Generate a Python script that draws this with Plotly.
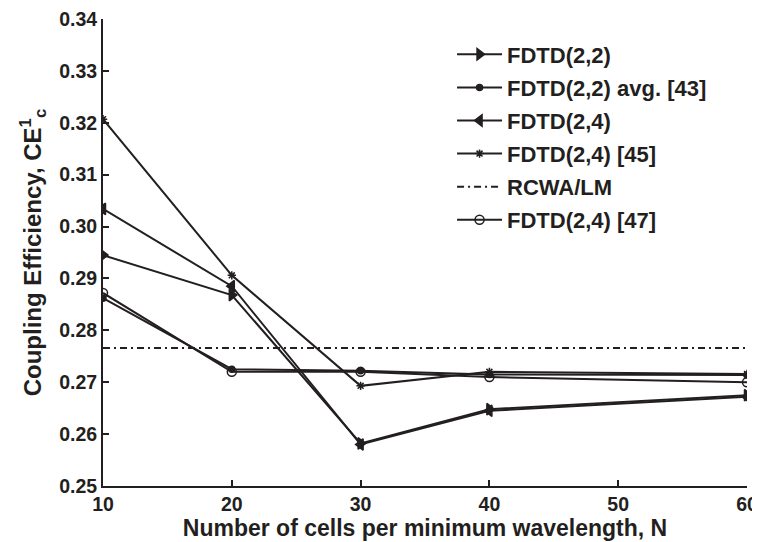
import plotly.graph_objects as go

N = [10, 20, 30, 40, 60]
fdtd22 = [0.2945, 0.2868, 0.2582, 0.2648, 0.2675]
fdtd22_avg = [0.2862, 0.2725, 0.2722, 0.2715, 0.2714]
fdtd24 = [0.3034, 0.2885, 0.2580, 0.2645, 0.2672]
fdtd24_45 = [0.3207, 0.2906, 0.2693, 0.2720, 0.2716]
rcwa_x = [10, 60]
rcwa_y = [0.2766, 0.2766]
fdtd24_47 = [0.2872, 0.2720, 0.2720, 0.2710, 0.2700]

names = ["FDTD(2,2)", "FDTD(2,2) avg. [43]", "FDTD(2,4)", "FDTD(2,4) [45]", "RCWA/LM", "FDTD(2,4) [47]"]
col = "#231f20"

fig = go.Figure()
def add(x, y, name, sym, size, g, dash="solid", mode="lines+markers"):
    fig.add_trace(go.Scatter(
        x=x, y=y, name=name, mode=mode, legendgroup=g,
        line=dict(color=col, width=2, dash=dash),
        marker=dict(symbol=sym, size=size, color=col, line=dict(color=col, width=1.5)),
    ))

add(N, fdtd22, names[0], "triangle-right", 10, "a")
add(N, fdtd22_avg, names[1], "circle", 6, "b")
add(N, fdtd24, names[2], "triangle-left", 10, "c")
add(N, fdtd24_45, names[3], "asterisk-open", 7, "d")
add(rcwa_x, rcwa_y, names[4], "circle", 1, "e", dash="7px,4px,2px,4px", mode="lines")
add(N, fdtd24_47, names[5], "circle-open", 9, "f")

fam = "Arial, Liberation Sans, sans-serif"
font = dict(family=fam, color=col, size=16, weight="bold")

# page body has an 8px default margin, so the figure is sized to fit the 760x542 window
fig.update_layout(
    width=752, height=534,
    margin=dict(l=95, r=13, t=11, b=56),
    paper_bgcolor="white", plot_bgcolor="white",
    font=font,
    showlegend=True,
    legend=dict(x=0.542, y=0.969, xanchor="left", yanchor="top",
                bgcolor="rgba(0,0,0,0)", tracegroupgap=1.5, itemwidth=45,
                font=dict(family=fam, size=22, color=col, weight="bold")),
    xaxis=dict(range=[10, 60], tickvals=[10, 20, 30, 40, 50, 60], automargin=False,
               ticklabeloverflow="allow",
               showgrid=False, zeroline=False, showline=True, linecolor=col, linewidth=2,
               ticks="inside", ticklen=6, tickwidth=2, tickcolor=col,
               tickfont=dict(size=19.5, weight="bold"),
               title=dict(text="Number of cells per minimum wavelength, N", standoff=0,
                          font=dict(size=23, weight="bold"))),
    yaxis=dict(range=[0.25, 0.34], tickvals=[0.25, 0.26, 0.27, 0.28, 0.29, 0.30, 0.31, 0.32, 0.33, 0.34],
               tickformat=".2f", automargin=False, ticklabeloverflow="allow",
               showgrid=False, zeroline=False, showline=True, linecolor=col, linewidth=2,
               ticks="inside", ticklen=6, tickwidth=2, tickcolor=col,
               tickfont=dict(size=19.5, weight="bold"),
               title=dict(text="Coupling Efficiency, CE<sup>1</sup><sub>c</sub>", standoff=11,
                          font=dict(size=24, weight="bold"))),
)

fig.write_html("out.html")
